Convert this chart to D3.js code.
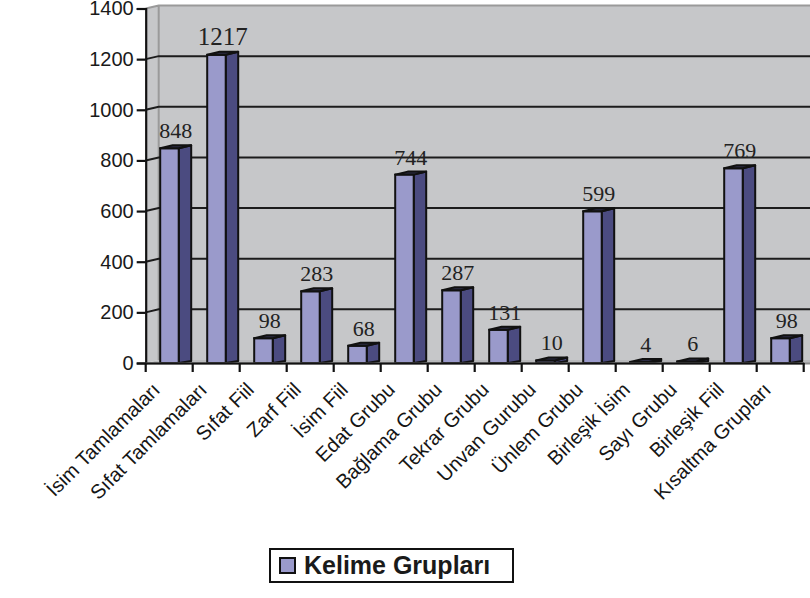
<!DOCTYPE html>
<html>
<head>
<meta charset="utf-8">
<script src="https://cdnjs.cloudflare.com/ajax/libs/d3/7.8.5/d3.min.js"></script>
<style>
  body { margin: 0; background: #fff; }
  svg { display: block; }
</style>
</head>
<body>
<div id="chart"></div>
<script>
var categories = ["İsim Tamlamaları", "Sıfat Tamlamaları", "Sıfat Fiil", "Zarf Fiil", "İsim Fiil",
  "Edat Grubu", "Bağlama Grubu", "Tekrar Grubu", "Unvan Gurubu", "Ünlem Grubu",
  "Birleşik İsim", "Sayı Grubu", "Birleşik Fiil", "Kısaltma Grupları"];
var values = [848, 1217, 98, 283, 68, 744, 287, 131, 10, 599, 4, 6, 769, 98];
var yTicks = [0, 200, 400, 600, 800, 1000, 1200, 1400];
var seriesName = "Kelime Grupları";

var width = 810, height = 598;
var depthX = 13, depthY = -3;

var svg = d3.select("#chart").append("svg")
    .attr("width", width)
    .attr("height", height);

var x = d3.scaleBand()
    .domain(categories)
    .range([145.7, 803.7])
    .padding(0);

var y = d3.scaleLinear()
    .domain([0, 1400])
    .range([363, 8.5]);

var x0 = x.range()[0], y0 = y(0), yTop = y(1400);

// back wall, left wall, floor
svg.append("rect")
    .attr("x", x0 + depthX).attr("y", yTop + depthY)
    .attr("width", width - x0).attr("height", y0 - yTop)
    .attr("fill", "#c6c7c9");

svg.append("polygon")
    .attr("points", [[x0, yTop], [x0 + depthX, yTop + depthY], [x0 + depthX, y0 + depthY], [x0, y0]].join(" "))
    .attr("fill", "#c6c7c9");

svg.append("polygon")
    .attr("points", [[x0, y0], [x0 + depthX, y0 + depthY], [width + 10, y0 + depthY], [width + 10, y0]].join(" "))
    .attr("fill", "#b8b9bb");

// wall edges
svg.append("path")
    .attr("d", "M" + x0 + "," + yTop + "L" + (x0 + depthX) + "," + (yTop + depthY) +
      "H" + (width + 10) + "M" + (x0 + depthX) + "," + (yTop + depthY) + "V" + (y0 + depthY))
    .attr("fill", "none")
    .attr("stroke", "#9a9a9a")
    .attr("stroke-width", 2);

// gridlines on both walls
svg.selectAll(".grid")
    .data(yTicks.filter(function(t) { return t > 0 && t < 1400; }))
  .enter().append("path")
    .attr("class", "grid")
    .attr("d", function(t) {
      return "M" + x0 + "," + y(t) + "L" + (x0 + depthX) + "," + (y(t) + depthY) + "H" + (width + 10);
    })
    .attr("fill", "none")
    .attr("stroke", "#1c1c1c")
    .attr("stroke-width", 2);

// bars
var frontOff = 14.5, frontW = 18.5, sideW = 12.5;

var bar = svg.selectAll(".bar")
    .data(values)
  .enter().append("g")
    .attr("class", "bar");

bar.append("polygon")
    .attr("points", function(d, i) {
      var fx = x(categories[i]) + frontOff + frontW;
      return [[fx, y(d)], [fx + sideW, y(d) + depthY], [fx + sideW, y0 + depthY + 1], [fx, y0]].join(" ");
    })
    .attr("fill", "#4b4b80")
    .attr("stroke", "#111")
    .attr("stroke-width", 2)
    .attr("stroke-linejoin", "round");

bar.append("rect")
    .attr("x", function(d, i) { return x(categories[i]) + frontOff; })
    .attr("y", function(d) { return y(d); })
    .attr("width", frontW)
    .attr("height", function(d) { return y0 - y(d); })
    .attr("fill", "#9a9acb")
    .attr("stroke", "#111")
    .attr("stroke-width", 2);

bar.append("polygon")
    .attr("points", function(d, i) {
      var fx = x(categories[i]) + frontOff;
      return [[fx, y(d)], [fx + frontW, y(d)], [fx + frontW + sideW, y(d) + depthY], [fx + sideW, y(d) + depthY]].join(" ");
    })
    .attr("fill", "#2c2c44")
    .attr("stroke", "#111")
    .attr("stroke-width", 2)
    .attr("stroke-linejoin", "round");

// value labels
svg.selectAll(".value")
    .data(values)
  .enter().append("text")
    .attr("class", "value")
    .attr("x", function(d, i) { return x(categories[i]) + frontOff + (frontW + sideW) / 2; })
    .attr("y", function(d) { return y(d) - 10; })
    .attr("text-anchor", "middle")
    .style("font-family", "'Liberation Serif', 'Times New Roman', serif")
    .style("font-size", function(d) { return d > 1000 ? "25px" : "22px"; })
    .style("fill", "#222")
    .text(function(d) { return d; });

// y axis
var yAxis = d3.axisLeft(y)
    .tickValues(yTicks)
    .tickSize(9)
    .tickPadding(3)
    .tickFormat(d3.format("d"));

var gy = svg.append("g")
    .attr("transform", "translate(" + x0 + ",0)")
    .call(yAxis);
gy.select(".domain").attr("stroke", "#111").attr("stroke-width", 2.2);
gy.selectAll(".tick line").attr("stroke", "#111").attr("stroke-width", 2.2);
gy.selectAll(".tick text")
    .style("font-family", "'Liberation Sans', Arial, sans-serif")
    .style("font-size", "20px")
    .style("fill", "#1a1a1a");

// x axis
svg.append("line")
    .attr("x1", x0 + 0).attr("x2", width + 10)
    .attr("y1", y0 + 0.5).attr("y2", y0 + 0.5)
    .attr("stroke", "#888").attr("stroke-width", 2);

var xAxis = d3.axisBottom(x)
    .tickSize(0)
    .tickFormat("");

var gx = svg.append("g")
    .attr("transform", "translate(0," + y0 + ")")
    .call(xAxis);
gx.select(".domain").attr("stroke", "#111").attr("stroke-width", 2.2);

svg.selectAll(".xtick")
    .data(d3.range(categories.length + 1))
  .enter().append("line")
    .attr("class", "xtick")
    .attr("x1", function(i) { return x0 + i * x.step(); })
    .attr("x2", function(i) { return x0 + i * x.step(); })
    .attr("y1", y0)
    .attr("y2", y0 + 9)
    .attr("stroke", "#111")
    .attr("stroke-width", 2.2);

svg.selectAll(".xlabel")
    .data(categories)
  .enter().append("text")
    .attr("class", "xlabel")
    .attr("transform", function(d) {
      return "translate(" + (x(d) + x.bandwidth() / 2 - 8) + ",391) rotate(-45)";
    })
    .attr("text-anchor", "end")
    .style("font-family", "'Liberation Sans', Arial, sans-serif")
    .style("font-size", "20px")
    .style("fill", "#151515")
    .text(function(d) { return d; });

// legend
var legend = svg.append("g").attr("transform", "translate(270,549)");
legend.append("rect")
    .attr("width", 243).attr("height", 33)
    .attr("fill", "#fff")
    .attr("stroke", "#111")
    .attr("stroke-width", 2);
legend.append("rect")
    .attr("x", 10).attr("y", 9)
    .attr("width", 15).attr("height", 15)
    .attr("fill", "#9a9acb")
    .attr("stroke", "#111")
    .attr("stroke-width", 2);
legend.append("text")
    .attr("x", 34).attr("y", 25)
    .style("font-family", "'Liberation Sans', Arial, sans-serif")
    .style("font-size", "25px")
    .style("font-weight", "bold")
    .style("fill", "#1a1a1a")
    .text(seriesName);
</script>
</body>
</html>
